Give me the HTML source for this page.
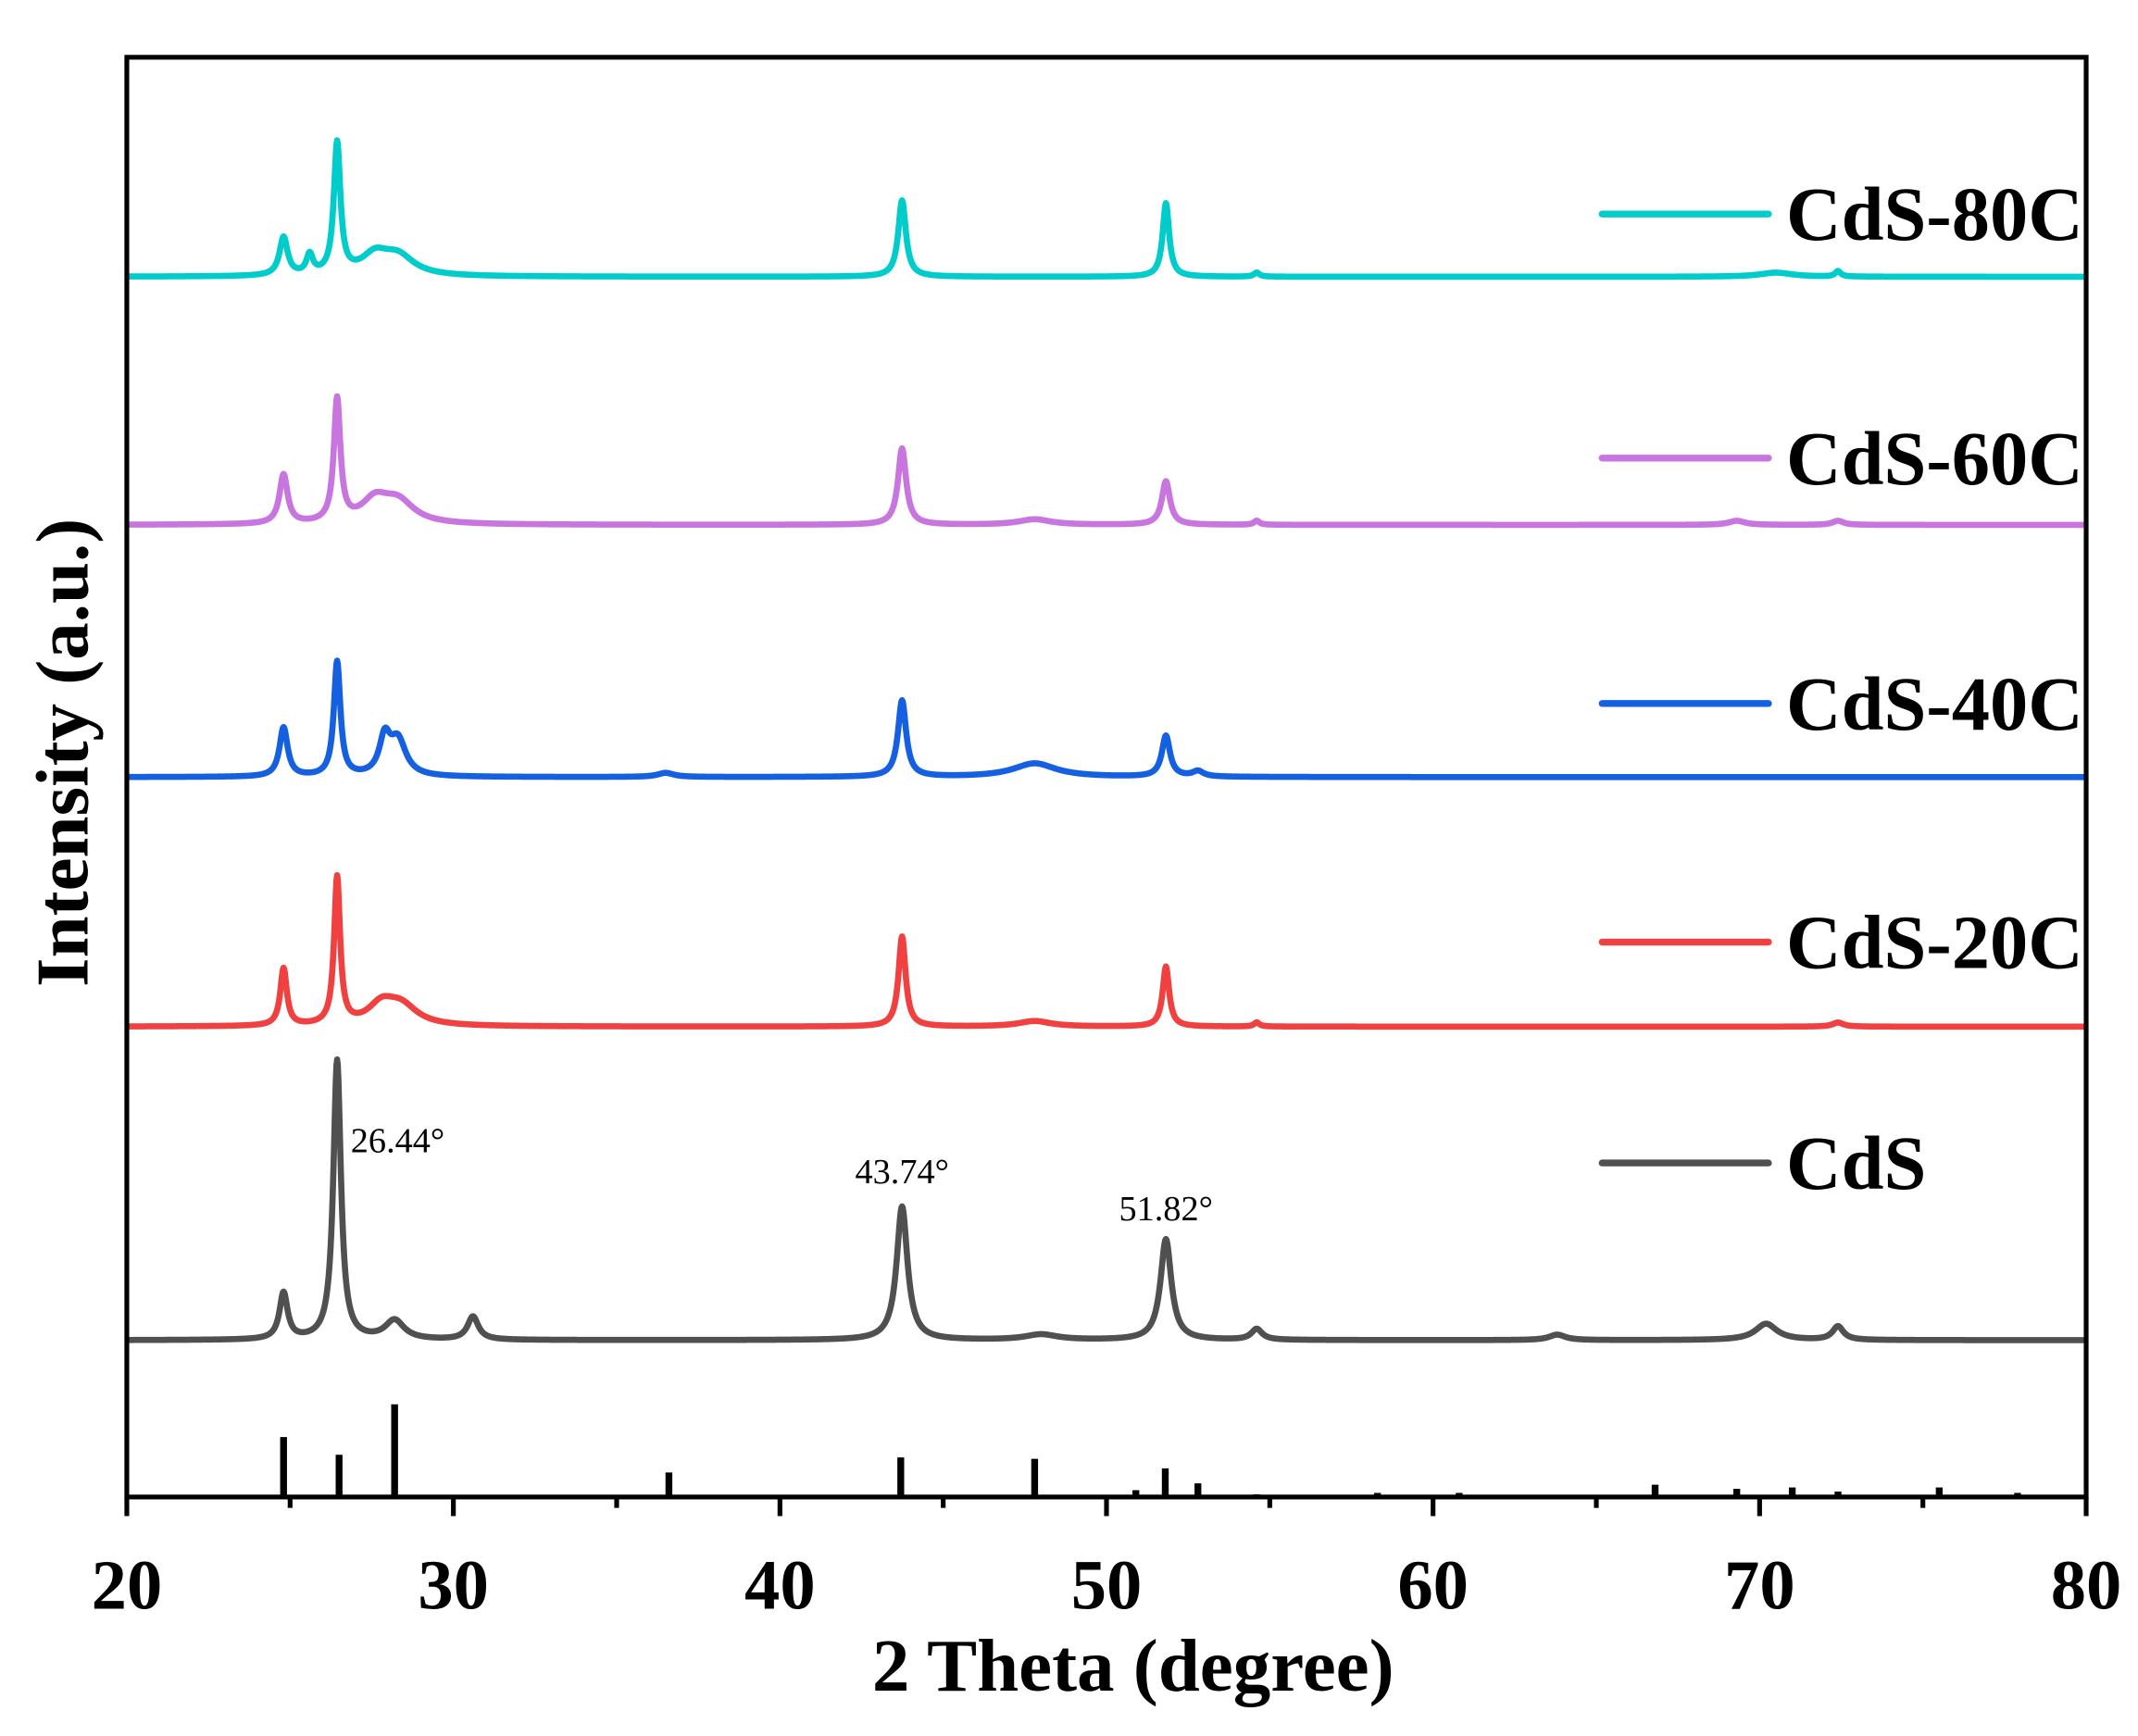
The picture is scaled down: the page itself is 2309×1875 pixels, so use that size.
<!DOCTYPE html>
<html><head><meta charset="utf-8"><style>
html,body{margin:0;padding:0;background:#fff;}
svg{display:block;}
text{font-family:"Liberation Serif",serif;}
</style></head><body>
<svg id="chart" width="2309" height="1875" viewBox="0 0 1568 1273.3" xmlns="http://www.w3.org/2000/svg">
<g id="plot"></g>
</svg>
<script>
// x-axis ticks
const xTicks = [20,30,40,50,60,70,80];
const xMinor = [25,35,45,55,65,75];
// series names, colors and baseline levels (arbitrary intensity units = offset)
const seriesNames = ["CdS-80C","CdS-60C","CdS-40C","CdS-20C","CdS"];
const seriesColors = ["#00CCCC","#C875E0","#1560E0","#F04040","#505050"];
const seriesOffsets = [780,598,413,230,0];
// peaks per series: positions (deg), heights, widths (HWHM deg)
const pk80Pos = [24.8,25.6,26.44,27.6,28.3,43.74,51.82,54.6,70.5,72.4];
const pk80H   = [28,14,96,14,14,56,54,3,3,4];
const pk80W   = [0.15,0.12,0.12,0.5,0.6,0.14,0.12,0.1,0.6,0.1];
const pk60Pos = [24.8,26.44,27.6,28.3,43.74,47.8,51.82,54.6,69.3,72.4];
const pk60H   = [36,90,16,16,56,4,32,3,3,3];
const pk60W   = [0.15,0.12,0.5,0.6,0.15,0.6,0.15,0.1,0.3,0.2];
const pk40Pos = [24.8,26.44,27.9,28.3,43.74,47.8,51.82,52.8,36.5];
const pk40H   = [36,84,26,26,56,10,30,4,3];
const pk40W   = [0.15,0.12,0.2,0.3,0.15,0.8,0.15,0.2,0.3];
const pk20Pos = [24.8,26.44,27.8,28.4,43.74,47.8,51.82,54.6,72.4];
const pk20H   = [42,108,14,14,66,4,44,3,3];
const pk20W   = [0.12,0.11,0.5,0.6,0.13,0.6,0.12,0.1,0.2];
const pkCdSPos = [24.8,26.44,28.2,30.6,43.74,48.0,51.82,54.6,63.8,70.2,72.4];
const pkCdSH   = [34,205,14,17,98,4,74,8,4,12,10];
const pkCdSW   = [0.15,0.14,0.35,0.2,0.2,0.6,0.2,0.2,0.3,0.4,0.2];
// reference pattern sticks
const refPos = [24.8,26.5,28.2,36.6,43.7,47.8,50.9,51.8,52.8,54.6,58.3,60.8,66.8,69.3,71.0,72.4,75.5,77.9];
const refH   = [44,31,68,18,29,28,5,21,10,2,3,3,9,6,7,4,7,3];
// annotations
const annText = ["26.44°","43.74°","51.82°"];
const annX = [26.44,43.74,51.82];

const L=93,R=1530,T=42,B=1098;
const X = v => L+(v-20)/60*(R-L);
const YB = 983; // CdS baseline
const Y = v => YB - v;
const NS="http://www.w3.org/2000/svg";
const svg=document.getElementById('chart');
function mk(tag,attrs,parent){const e=document.createElementNS(NS,tag);for(const k in attrs)e.setAttribute(k,attrs[k]);(parent||svg).appendChild(e);return e;}

const peakSets=[[pk80Pos,pk80H,pk80W],[pk60Pos,pk60H,pk60W],[pk40Pos,pk40H,pk40W],[pk20Pos,pk20H,pk20W],[pkCdSPos,pkCdSH,pkCdSW]];
peakSets.forEach((ps,i)=>{
  let d="";
  for(let x=20;x<=80.0001;x+=0.02){
    let v=seriesOffsets[i];
    for(let j=0;j<ps[0].length;j++){const u=(x-ps[0][j])/ps[2][j];v+=ps[1][j]/(1+u*u);}
    d+=(d?"L":"M")+X(x).toFixed(2)+","+Y(v).toFixed(2);
  }
  const p=mk('path',{d:d,fill:'none',stroke:seriesColors[i],'stroke-width':4.5,'stroke-linejoin':'round'});
  
  
});
// reference sticks
refPos.forEach((p,i)=>{
  const l=mk('line',{x1:X(p),x2:X(p),y1:B,y2:B-refH[i],stroke:'#000','stroke-width':5});
  
  
});
// axes frame
const fr=mk('rect',{x:L,y:T,width:R-L,height:B-T,fill:'none',stroke:'#000','stroke-width':3.5});


xTicks.forEach(t=>{
  mk('line',{x1:X(t),x2:X(t),y1:B,y2:B+14,stroke:'#000','stroke-width':3.5});
  const tx=mk('text',{x:X(t),y:1180,'text-anchor':'middle','font-size':52,'font-weight':'bold'});
  tx.textContent=t;
  
  
});
xMinor.forEach(t=>mk('line',{x1:X(t),x2:X(t),y1:B,y2:B+8,stroke:'#000','stroke-width':3.5}));
// titles
const xt=mk('text',{x:831,y:1240,'text-anchor':'middle','font-size':55,'font-weight':'bold'});
xt.textContent='2 Theta (degree)';


const yt=mk('text',{x:0,y:0,'text-anchor':'middle','font-size':55,'font-weight':'bold',transform:'translate(64,552) rotate(-90)'});
yt.textContent='Intensity (a.u.)';


// legend
const legY=[157,336,516,691,853];
seriesNames.forEach((n,i)=>{
  const g=mk('g',{});
  
  
  mk('line',{x1:1175,x2:1297,y1:legY[i],y2:legY[i],stroke:seriesColors[i],'stroke-width':5,'stroke-linecap':'round'},g);
  const t=mk('text',{x:1310,y:legY[i]+19,'font-size':56,'font-weight':'bold'},g);
  t.textContent=n;
});
// annotations
const annY=[845,868,895];
annText.forEach((s,i)=>{
  const t=mk('text',{x:i==0?X(annX[i])+10:X(annX[i]),y:annY[i],'text-anchor':i==0?'start':'middle','font-size':26});
  t.textContent=s;
  
  
});
</script>
</body></html>
